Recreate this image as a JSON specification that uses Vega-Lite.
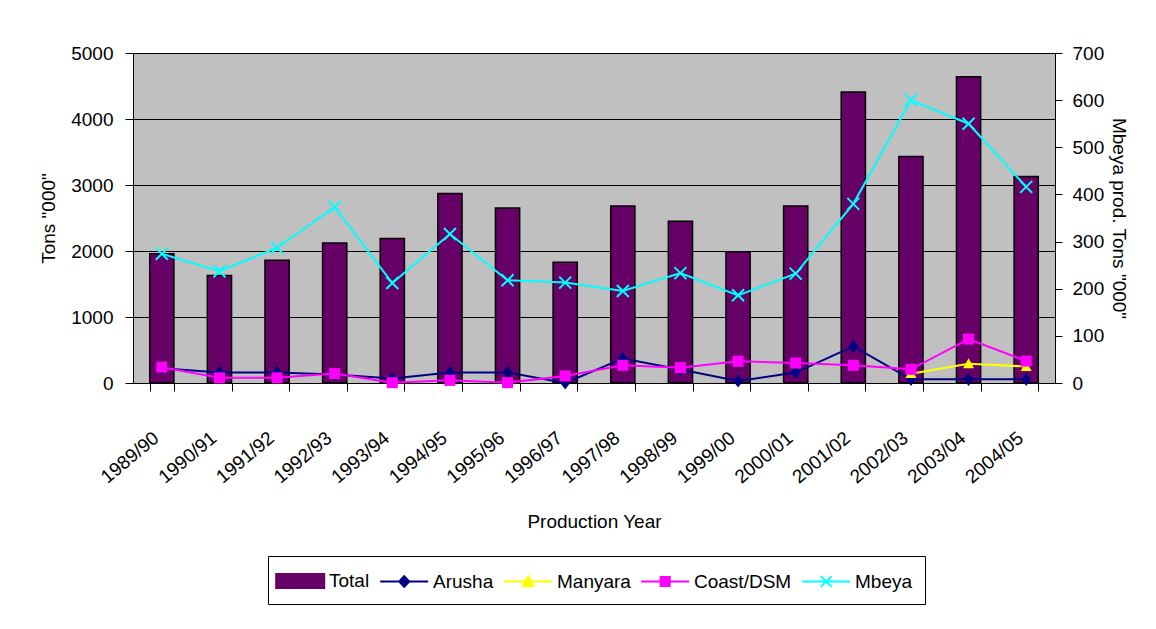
{
  "$schema": "https://vega.github.io/schema/vega-lite/v6.json",
  "width": 922,
  "height": 330,
  "autosize": "none",
  "padding": {"left": 133, "top": 53, "right": 101, "bottom": 246},
  "background": "white",
  "config": {
    "font": "Liberation Sans",
    "view": {"fill": "#C0C0C0", "stroke": "#808080", "strokeWidth": 1},
    "axis": {
      "labelFont": "Liberation Sans",
      "titleFont": "Liberation Sans",
      "labelFontSize": 19,
      "titleFontSize": 19,
      "titleFontWeight": "normal",
      "labelColor": "black",
      "titleColor": "black",
      "domainColor": "black",
      "tickColor": "black",
      "domainWidth": 1,
      "tickWidth": 1
    },
    "legend": {
      "labelFont": "Liberation Sans",
      "labelFontSize": 19,
      "labelColor": "black",
      "symbolStrokeWidth": 2,
      "symbolOpacity": 1
    }
  },
  "data": {
    "values": [
      {"year": "1989/90", "series": "Total", "value": 1960},
      {"year": "1990/91", "series": "Total", "value": 1630},
      {"year": "1991/92", "series": "Total", "value": 1860},
      {"year": "1992/93", "series": "Total", "value": 2120},
      {"year": "1993/94", "series": "Total", "value": 2190},
      {"year": "1994/95", "series": "Total", "value": 2870},
      {"year": "1995/96", "series": "Total", "value": 2650},
      {"year": "1996/97", "series": "Total", "value": 1830},
      {"year": "1997/98", "series": "Total", "value": 2680},
      {"year": "1998/99", "series": "Total", "value": 2450},
      {"year": "1999/00", "series": "Total", "value": 1990},
      {"year": "2000/01", "series": "Total", "value": 2680},
      {"year": "2001/02", "series": "Total", "value": 4410},
      {"year": "2002/03", "series": "Total", "value": 3430},
      {"year": "2003/04", "series": "Total", "value": 4640},
      {"year": "2004/05", "series": "Total", "value": 3130},
      {"year": "1989/90", "series": "Arusha", "value": 222},
      {"year": "1990/91", "series": "Arusha", "value": 160},
      {"year": "1991/92", "series": "Arusha", "value": 160},
      {"year": "1992/93", "series": "Arusha", "value": 130},
      {"year": "1993/94", "series": "Arusha", "value": 67},
      {"year": "1994/95", "series": "Arusha", "value": 160},
      {"year": "1995/96", "series": "Arusha", "value": 160},
      {"year": "1996/97", "series": "Arusha", "value": 0},
      {"year": "1997/98", "series": "Arusha", "value": 370},
      {"year": "1998/99", "series": "Arusha", "value": 205},
      {"year": "1999/00", "series": "Arusha", "value": 30},
      {"year": "2000/01", "series": "Arusha", "value": 158},
      {"year": "2001/02", "series": "Arusha", "value": 556},
      {"year": "2002/03", "series": "Arusha", "value": 55},
      {"year": "2003/04", "series": "Arusha", "value": 55},
      {"year": "2004/05", "series": "Arusha", "value": 55},
      {"year": "2002/03", "series": "Manyara", "value": 141},
      {"year": "2003/04", "series": "Manyara", "value": 290},
      {"year": "2004/05", "series": "Manyara", "value": 250},
      {"year": "1989/90", "series": "Coast/DSM", "value": 240},
      {"year": "1990/91", "series": "Coast/DSM", "value": 78},
      {"year": "1991/92", "series": "Coast/DSM", "value": 78},
      {"year": "1992/93", "series": "Coast/DSM", "value": 143},
      {"year": "1993/94", "series": "Coast/DSM", "value": 5},
      {"year": "1994/95", "series": "Coast/DSM", "value": 40},
      {"year": "1995/96", "series": "Coast/DSM", "value": 5},
      {"year": "1996/97", "series": "Coast/DSM", "value": 106},
      {"year": "1997/98", "series": "Coast/DSM", "value": 268},
      {"year": "1998/99", "series": "Coast/DSM", "value": 232},
      {"year": "1999/00", "series": "Coast/DSM", "value": 329},
      {"year": "2000/01", "series": "Coast/DSM", "value": 303},
      {"year": "2001/02", "series": "Coast/DSM", "value": 268},
      {"year": "2002/03", "series": "Coast/DSM", "value": 207},
      {"year": "2003/04", "series": "Coast/DSM", "value": 665},
      {"year": "2004/05", "series": "Coast/DSM", "value": 333},
      {"year": "1989/90", "series": "Mbeya", "value": 274},
      {"year": "1990/91", "series": "Mbeya", "value": 237},
      {"year": "1991/92", "series": "Mbeya", "value": 287},
      {"year": "1992/93", "series": "Mbeya", "value": 373},
      {"year": "1993/94", "series": "Mbeya", "value": 212},
      {"year": "1994/95", "series": "Mbeya", "value": 316},
      {"year": "1995/96", "series": "Mbeya", "value": 218},
      {"year": "1996/97", "series": "Mbeya", "value": 213},
      {"year": "1997/98", "series": "Mbeya", "value": 195},
      {"year": "1998/99", "series": "Mbeya", "value": 233},
      {"year": "1999/00", "series": "Mbeya", "value": 186},
      {"year": "2000/01", "series": "Mbeya", "value": 232},
      {"year": "2001/02", "series": "Mbeya", "value": 380},
      {"year": "2002/03", "series": "Mbeya", "value": 600},
      {"year": "2003/04", "series": "Mbeya", "value": 550},
      {"year": "2004/05", "series": "Mbeya", "value": 416}
    ]
  },
  "encoding": {
    "x": {
      "field": "year",
      "type": "ordinal",
      "sort": null,
      "scale": {"paddingInner": 0.58, "paddingOuter": 0.29},
      "axis": {
        "title": "Production Year",
        "tickBand": "extent",
        "tickSize": 8,
        "labelAngle": -40,
        "labelAlign": "right",
        "labelBaseline": "middle",
        "labelPadding": 44,
        "labelOffset": -6,
        "titlePadding": 26,
        "grid": false
      }
    }
  },
  "layer": [
    {
      "layer": [
        {
          "transform": [{"filter": "datum.series === 'Total'"}],
          "mark": {"type": "bar", "stroke": "black", "strokeWidth": 1.5},
          "encoding": {
            "y": {
              "field": "value",
              "type": "quantitative",
              "scale": {"domain": [0, 5000], "nice": false},
              "axis": {
                "orient": "left",
                "title": "Tons \"000\"",
                "format": "d",
                "values": [0, 500, 1000, 1500, 2000, 2500, 3000, 3500, 4000, 4500, 5000],
                "grid": true,
                "gridColor": "black",
                "gridWidth": 1,
                "gridOpacity": 1,
                "tickSize": 8,
                "labelPadding": 12,
                "titlePadding": 12
              }
            },
            "color": {
              "field": "series",
              "type": "nominal",
              "scale": {
                "domain": ["Total", "Arusha", "Manyara", "Coast/DSM", "Mbeya"],
                "range": ["#660066", "#000080", "#FFFF00", "#FF00FF", "#00FFFF"]
              },
              "legend": {
                "title": null,
                "orient": "none",
                "legendX": 135,
                "legendY": 503,
                "direction": "horizontal",
                "columns": 5,
                "strokeColor": "black",
                "fillColor": "white",
                "padding": 12,
                "columnPadding": 6,
                "symbolSize": 576,
                "labelOffset": 23
              }
            }
          }
        },
        {
          "transform": [{"filter": "datum.series !== 'Total' && datum.series !== 'Mbeya'"}],
          "mark": {"type": "line", "strokeWidth": 2},
          "encoding": {
            "y": {"field": "value", "type": "quantitative"},
            "color": {"field": "series", "type": "nominal"}
          }
        },
        {
          "transform": [{"filter": "datum.series === 'Arusha'"}],
          "mark": {"type": "point", "shape": "M0,-1.2L0.9,0L0,1.2L-0.9,0Z", "filled": true, "opacity": 1, "size": 121},
          "encoding": {
            "y": {"field": "value", "type": "quantitative"},
            "color": {"field": "series", "type": "nominal"}
          }
        },
        {
          "transform": [{"filter": "datum.series === 'Manyara'"}],
          "mark": {"type": "point", "shape": "M0,-1L1,0.8H-1Z", "filled": true, "opacity": 1, "size": 121},
          "encoding": {
            "y": {"field": "value", "type": "quantitative"},
            "color": {"field": "series", "type": "nominal"}
          }
        },
        {
          "transform": [{"filter": "datum.series === 'Coast/DSM'"}],
          "mark": {"type": "point", "shape": "square", "filled": true, "opacity": 1, "size": 121},
          "encoding": {
            "y": {"field": "value", "type": "quantitative"},
            "color": {"field": "series", "type": "nominal"}
          }
        },
        {
          "transform": [{"filter": "false"}],
          "mark": {"type": "point", "filled": true, "opacity": 1},
          "encoding": {
            "y": {"field": "value", "type": "quantitative"},
            "color": {"field": "series", "type": "nominal"},
            "stroke": {
              "field": "series",
              "type": "nominal",
              "scale": {
                "domain": ["Total", "Arusha", "Manyara", "Coast/DSM", "Mbeya"],
                "range": ["black", "#000080", "#FFFF00", "#FF00FF", "#00FFFF"]
              }
            },
            "shape": {
              "field": "series",
              "type": "nominal",
              "scale": {
                "domain": ["Total", "Arusha", "Manyara", "Coast/DSM", "Mbeya"],
                "range": [
                  "M-1.4,-0.58H2.6V0.58H-1.4Z",
                  "M-1.4,0H2.6M0.6,-0.45L1.02,0L0.6,0.45L0.18,0Z",
                  "M-1.4,0H2.6M0.6,-0.45L1.05,0.4H0.15Z",
                  "M-1.4,0H2.6M0.22,-0.38H0.98V0.38H0.22Z",
                  "M-1.4,0H2.6M0.15,-0.45L1.05,0.45M0.15,0.45L1.05,-0.45"
                ]
              }
            }
          }
        }
      ]
    },
    {
      "transform": [{"filter": "datum.series === 'Mbeya'"}],
      "layer": [
        {
          "mark": {"type": "line", "strokeWidth": 2},
          "encoding": {
            "y": {
              "field": "value",
              "type": "quantitative",
              "scale": {"domain": [0, 700], "nice": false},
              "axis": {
                "orient": "right",
                "title": "Mbeya prod. Tons \"000\"",
                "values": [0, 100, 200, 300, 400, 500, 600, 700],
                "grid": false,
                "tickSize": 7,
                "labelPadding": 10,
                "titlePadding": 5
              }
            },
            "color": {"field": "series", "type": "nominal"}
          }
        },
        {
          "mark": {"type": "point", "shape": "M-1,-1L1,1M-1,1L1,-1", "filled": false, "size": 144, "strokeWidth": 2, "opacity": 1},
          "encoding": {
            "y": {"field": "value", "type": "quantitative"},
            "color": {"field": "series", "type": "nominal"}
          }
        }
      ]
    }
  ],
  "resolve": {"scale": {"y": "independent"}}
}
